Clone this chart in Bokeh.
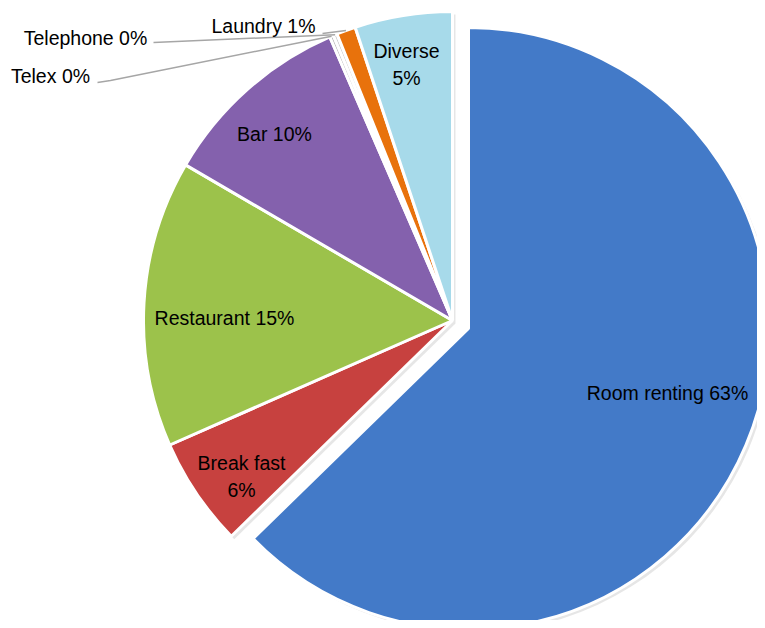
import math
from bokeh.plotting import figure
from bokeh.models import Range1d, ColumnDataSource
from bokeh.core.properties import value
from bokeh.embed import file_html
from bokeh.resources import INLINE

# ---- data ----
categories = ["Room renting", "Break fast", "Restaurant", "Bar", "Telex", "Telephone", "Laundry", "Diverse"]
shares = [62.7, 5.7, 15.0, 10.1, 0.2, 0.2, 1.0, 5.1]
labels_pct = ["63%", "6%", "15%", "10%", "0%", "0%", "1%", "5%"]
colors = ["#437AC8", "#C7413F", "#9CC24B", "#8461AD", "#B0B0B0", "#C4C4C4", "#E8720C", "#A7DAEA"]

W, H = 757, 620
# data units == screen pixels of the reference (x right, y up with y = 628 - screen_y)
p = figure(width=W, height=H, output_backend="svg", toolbar_location=None,
           x_range=Range1d(0, W), y_range=Range1d(628 - H, 628),
           min_border=0, outline_line_color=None)
p.axis.visible = False
p.grid.visible = False
p.background_fill_color = "white"
p.border_fill_color = "white"

main_c = (452, 628 - 320)
main_r = 309
expl_c = (468, 628 - 328)
expl_r = 301

total = sum(shares)
starts, ends, cxs, cys, rs = [], [], [], [], []
cum = 0.0
mids = []
for i, s in enumerate(shares):
    a0 = cum / total
    cum += s
    a1 = cum / total
    starts.append(math.pi / 2 - 2 * math.pi * a0)
    ends.append(math.pi / 2 - 2 * math.pi * a1)
    mids.append(math.pi / 2 - math.pi * (a0 + a1))
    c = expl_c if i == 0 else main_c
    cxs.append(c[0]); cys.append(c[1]); rs.append(expl_r if i == 0 else main_r)

src = ColumnDataSource(dict(x=cxs, y=cys, r=rs, start=starts, end=ends, color=colors, cat=categories))
shadow = ColumnDataSource(dict(x=[x + 3 for x in cxs], y=[y - 3 for y in cys], r=rs, start=starts, end=ends))

p.wedge(x="x", y="y", radius="r", start_angle="start", end_angle="end", direction="clock",
        source=shadow, fill_color="#808080", fill_alpha=0.2, line_color=None)
p.wedge(x="x", y="y", radius="r", start_angle="start", end_angle="end", direction="clock",
        source=src, fill_color="color", line_color="white", line_width=3)

# leader lines for the small outside labels (Telex, Telephone, Laundry)
lx, ly = [], []
starts_pts = {4: [(97, 82), (110, 80)], 5: [(153, 42)], 6: [(322, 33)]}
for i, pts in starts_pts.items():
    ex = main_c[0] + main_r * math.cos(mids[i])
    ey = main_c[1] + main_r * math.sin(mids[i])
    xs = [q[0] for q in pts] + [ex]
    ys = [628 - q[1] for q in pts] + [ey]
    lx.append(xs); ly.append(ys)
p.multi_line(xs=lx, ys=ly, line_color="#A6A6A6", line_width=1.5)

# data labels
font = value("Liberation Sans")
texts = [
    categories[0] + " " + labels_pct[0],
    categories[1] + "\n" + labels_pct[1],
    categories[2] + " " + labels_pct[2],
    categories[3] + " " + labels_pct[3],
    categories[4] + " " + labels_pct[4],
    categories[5] + " " + labels_pct[5],
    categories[6] + " " + labels_pct[6],
    categories[7] + "\n" + labels_pct[7],
]
tx = [667, 241, 224, 274, 50, 85, 263, 406]
ty = [628 - 392, 628 - 476, 628 - 317, 628 - 133, 628 - 75, 628 - 37, 628 - 25, 628 - 64]
p.text(x=tx, y=ty, text=texts, text_font=font, text_font_size="19.5px",
       text_align="center", text_baseline="middle", text_color="black",
       text_line_height=1.25)

open("out.html", "w").write(file_html(p, INLINE))
